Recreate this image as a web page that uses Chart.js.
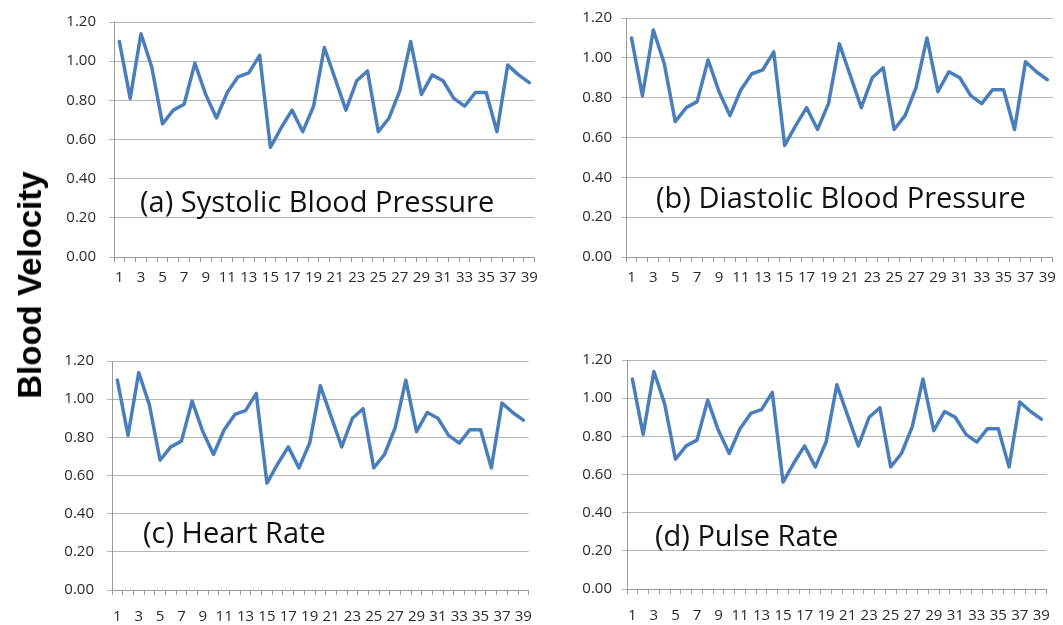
<!DOCTYPE html>
<html>
<head>
<meta charset="utf-8">
<script src="https://cdn.jsdelivr.net/npm/chart.js@4/dist/chart.umd.min.js"></script>
<style>
  html, body { margin:0; padding:0; background:#fff; }
  body { width:1063px; height:625px; position:relative; overflow:hidden; }
  .pane { position:absolute; }
  .ttl { position:absolute; font-family:"Open Sans", sans-serif; font-size:29px; color:#111; white-space:nowrap; line-height:1; }
  #ylab { position:absolute; font-family:"Liberation Sans", Arial, sans-serif; font-weight:bold; font-size:33px; color:#000;
          white-space:nowrap; left:30px; top:285px; transform:translate(-50%,-50%) rotate(-90deg); }
</style>
</head>
<body>
<div class="pane" style="left:40px;top:0px;"><canvas id="ca" width="505" height="290"></canvas></div>
<div class="pane" style="left:560px;top:0px;"><canvas id="cb" width="503" height="290"></canvas></div>
<div class="pane" style="left:40px;top:330px;"><canvas id="cc" width="505" height="295"></canvas></div>
<div class="pane" style="left:560px;top:330px;"><canvas id="cd" width="503" height="295"></canvas></div>

<div class="ttl" style="left:140px;top:186px;">(a) Systolic Blood Pressure</div>
<div class="ttl" style="left:656px;top:182px;">(b) Diastolic Blood Pressure</div>
<div class="ttl" style="left:143px;top:517px;">(c) Heart Rate</div>
<div class="ttl" style="left:655px;top:520px;">(d) Pulse Rate</div>
<div id="ylab">Blood Velocity</div>

<script>
const categories = Array.from({length:39}, (_, i) => String(i + 1));
const yTicks = [0, 0.2, 0.4, 0.6, 0.8, 1.0, 1.2];

const systolic  = [1.10,0.81,1.14,0.97,0.68,0.75,0.78,0.99,0.83,0.71,0.84,0.92,0.94,1.03,0.56,0.66,0.75,0.64,0.77,1.07,0.91,0.75,0.90,0.95,0.64,0.71,0.85,1.10,0.83,0.93,0.90,0.81,0.77,0.84,0.84,0.64,0.98,0.93,0.89];
const diastolic = [1.10,0.81,1.14,0.97,0.68,0.75,0.78,0.99,0.83,0.71,0.84,0.92,0.94,1.03,0.56,0.66,0.75,0.64,0.77,1.07,0.91,0.75,0.90,0.95,0.64,0.71,0.85,1.10,0.83,0.93,0.90,0.81,0.77,0.84,0.84,0.64,0.98,0.93,0.89];
const heartRate = [1.10,0.81,1.14,0.97,0.68,0.75,0.78,0.99,0.83,0.71,0.84,0.92,0.94,1.03,0.56,0.66,0.75,0.64,0.77,1.07,0.91,0.75,0.90,0.95,0.64,0.71,0.85,1.10,0.83,0.93,0.90,0.81,0.77,0.84,0.84,0.64,0.98,0.93,0.89];
const pulseRate = [1.10,0.81,1.14,0.97,0.68,0.75,0.78,0.99,0.83,0.71,0.84,0.92,0.94,1.03,0.56,0.66,0.75,0.64,0.77,1.07,0.91,0.75,0.90,0.95,0.64,0.71,0.85,1.10,0.83,0.93,0.90,0.81,0.77,0.84,0.84,0.64,0.98,0.93,0.89];

const tickFont = { family: "'Open Sans', sans-serif", size: 15 };

function makeChart(id, data, cfg) {
  new Chart(document.getElementById(id), {
    type: 'line',
    data: {
      labels: categories,
      datasets: [{
        data: data,
        borderColor: '#4a7ebb',
        borderWidth: 3.5,
        pointRadius: 0,
        tension: 0,
        fill: false,
        borderJoinStyle: 'round',
        borderCapStyle: 'round'
      }]
    },
    options: {
      responsive: false,
      animation: false,
      layout: { padding: { top: cfg.top, right: cfg.right, left: 0, bottom: 0 } },
      plugins: { legend: { display: false }, tooltip: { enabled: false } },
      scales: {
        x: {
          type: 'category',
          offset: true,
          grid: { offset: true, drawOnChartArea: false, drawTicks: true, tickLength: 5, color: '#9a9a9a' },
          border: { display: true, color: '#9a9a9a' },
          ticks: {
            autoSkip: false, maxRotation: 0, minRotation: 0,
            padding: cfg.xpad, color: '#2a2a2a', font: tickFont,
            callback: (v, i) => (i % 2 === 0 ? categories[i] : '')
          },
          afterFit: s => { s.height = cfg.xh; }
        },
        y: {
          min: 0, max: 1.2,
          afterBuildTicks: s => { s.ticks = yTicks.map(v => ({ value: v })); },
          grid: { color: '#b5b5b5', lineWidth: 1, drawTicks: true, tickLength: 5 },
          border: { display: true, color: '#9a9a9a' },
          ticks: { padding: cfg.ypad, color: '#2a2a2a', font: tickFont, callback: v => Number(v).toFixed(2) },
          afterFit: s => { s.width = cfg.yw; }
        }
      }
    }
  });
}

makeChart('ca', systolic,  { top: 18, right: 8, xh: 33, yw: 74, xpad: 7,  ypad: 13 });
makeChart('cb', diastolic, { top: 18, right: 4, xh: 33, yw: 66, xpad: 7,  ypad: 9 });
makeChart('cc', heartRate, { top: 31, right: 5, xh: 35, yw: 72, xpad: 13, ypad: 13 });
makeChart('cd', pulseRate, { top: 30, right: 6, xh: 36, yw: 67, xpad: 13, ypad: 10 });
</script>
</body>
</html>
